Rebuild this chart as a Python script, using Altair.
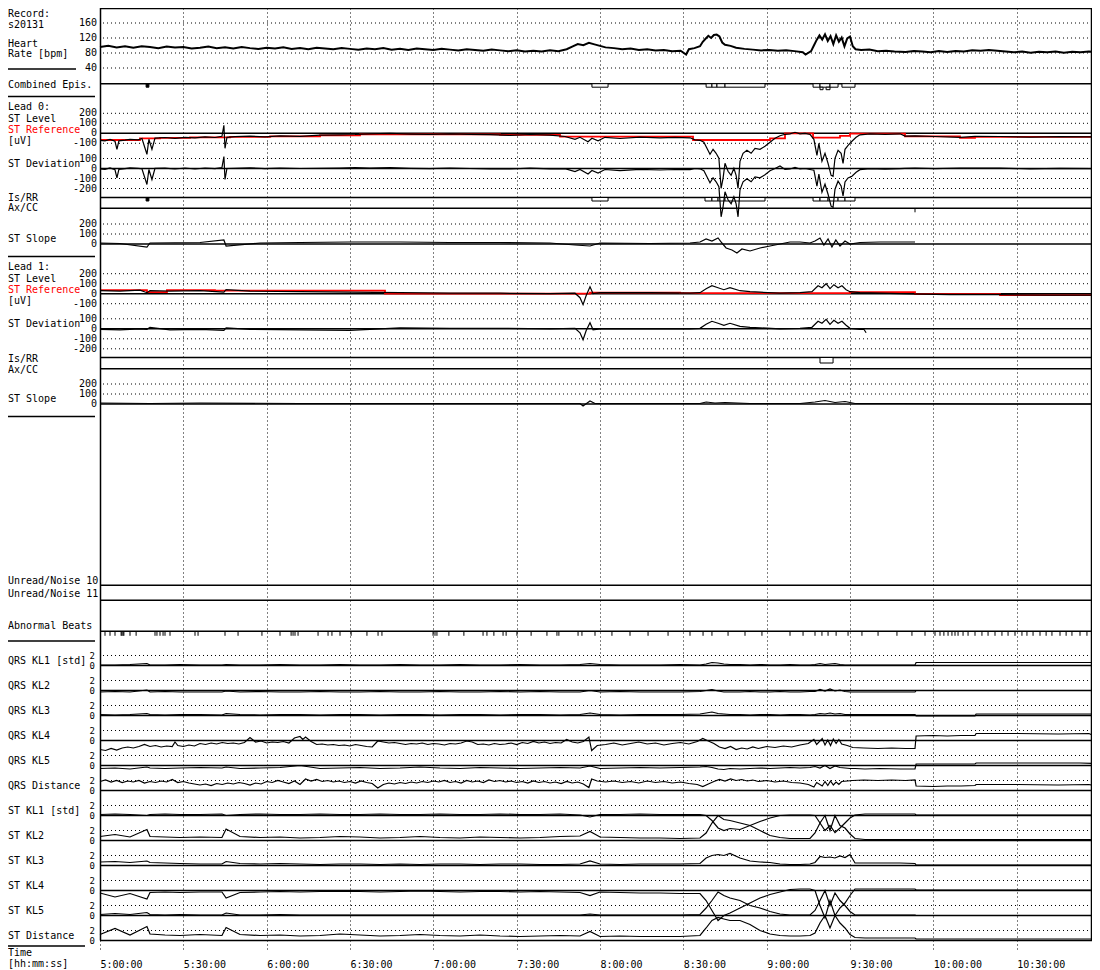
import altair as alt
import pandas as pd

# ---------------- data (time in minutes after 05:00:00) ----------------
HEART_RATE = [(0,96),(3,99),(6,95),(9,98),(12,94),(15,98),(18,96),(21,93),(24,97),(27,95),(30,96),(33,92),(36,94),(39,97),(42,93),(45,95),(48,92),(51,96),(54,93),(57,91),(60,94),(63,92),(66,95),(69,91),(72,93),(75,90),(78,94),(81,92),(84,90),(87,93),(90,91),(93,89),(96,92),(99,90),(102,93),(105,89),(108,91),(111,88),(114,92),(117,90),(120,88),(123,91),(126,89),(129,87),(132,90),(135,88),(138,86),(141,89),(144,87),(147,85),(150,87),(153,84),(156,86),(159,84),(162,87),(165,85),(168,90),(170,97),(172,104),(174,101),(176,107),(178,103),(180,99),(182,95),(185,93),(188,90),(191,92),(194,88),(197,90),(200,87),(203,88),(206,85),(209,86),(211,76),(212,90),(214,93),(216,98),(217,110),(218,118),(219,126),(220,120),(221,128),(222,129),(223,124),(224,108),(225,102),(227,99),(229,94),(232,91),(235,89),(238,87),(241,88),(244,86),(247,87),(250,85),(253,82),(254,76),(256,85),(257,100),(258,115),(259,127),(260,116),(261,130),(262,112),(263,125),(264,104),(265,127),(266,110),(267,121),(268,98),(269,119),(270,124),(271,98),(272,90),(274,88),(277,89),(280,85),(283,86),(286,84),(290,83),(293,85),(296,84),(299,82),(302,85),(305,83),(308,85),(311,84),(314,87),(317,86),(320,88),(323,86),(326,84),(329,82),(332,84),(335,81),(338,83),(341,82),(344,84),(347,81),(350,83),(353,82),(356,84),(359,82)]

EPIS_COMBINED = [(177.1,182.9),(218.2,220.3),(220.3,222.1),(222.1,225.0),(225.0,239.4),(256.7,259.2),(259.2,262.8),(262.8,265.7),(267.1,271.8)]
EPIS_COMBINED_DEEP = [(259.2,260.3),(261.4,262.8)]
EPIS_SHORT = [(16.6,17.6)]
L0_ISRR = [(177.1,182.9),(217.8,220.3),(220.3,222.5),(222.5,225.0),(225.0,239.4),(256.7,259.2),(259.2,262.1),(262.1,265.7),(265.7,268.2),(268.2,271.8)]
L0_ISRR_SHORT = [(16.6,17.6)]
L1_ISRR = [(259.2,263.9)]
L0_AXCC = [293.4]

L0_T = [0,1.8,3.6,5.4,6.1,6.8,9.0,10.8,13.7,15.1,
        16.9,17.6,18.7,19.8,23.4,27.0,30.6,34.2,37.8,41.4,
        43.9,44.6,45.0,45.7,48.6,54.0,59.4,64.8,72.0,79.2,
        86.4,91.8,97.2,104.4,111.6,118.8,126.0,133.2,140.4,147.6,
        154.8,162.0,167.4,171.0,172.8,175.7,177.1,179.3,181.8,187.2,
        194.4,201.6,207.0,212.4,214.2,216.0,217.4,218.5,219.6,220.7,
        221.8,222.8,223.6,224.3,225.0,226.1,227.2,228.2,229.0,229.7,
        230.4,231.5,232.9,234.4,235.8,237.6,239.4,241.2,243.0,244.8,
        246.6,248.4,250.2,252.0,253.8,255.6,257.0,258.1,258.8,259.9,
        261.0,262.1,263.2,263.9,264.6,265.7,266.8,267.5,268.2,269.3,
        270.7,272.2,273.6,277.2,282.6,288.0,289.8,293.4,300.6,309.6,
        315.0,324.0,334.8,345.6,359.3]
L0_LEVEL = [-70,-75,-62,-80,-160,-75,-68,-60,-66,-52,
            -210,-60,-160,-48,-42,-50,-40,-45,-35,-42,
            -30,80,-150,-40,-33,-28,-36,-25,-30,-18,
            -15,-12,-5,0,-8,-12,-5,-10,-14,-20,
            -12,-18,-32,-60,-40,-85,-50,-75,-40,-52,
            -38,-45,-40,-45,-65,-70,-90,-150,-210,-160,
            -200,-250,-550,-450,-300,-380,-420,-350,-420,-550,
            -280,-200,-170,-200,-150,-160,-130,-90,-50,-25,
            -10,-5,10,-5,0,-10,-60,-220,-100,-280,
            -200,-300,-420,-430,-250,-170,-200,-300,-160,-120,
            -80,-40,-15,-5,-10,-5,-28,-25,-32,-40,
            -30,-32,-38,-33,-36]
L0_DEV = [-3,-8,5,-13,-93,-8,-1,7,1,-2,
          -160,-10,-110,2,3,-5,5,-5,5,-2,
          10,120,-110,0,2,7,-1,5,0,2,
          5,8,5,10,2,-2,5,0,-4,-5,
          3,-3,-2,-30,-10,-55,-20,-45,-10,-22,
          -8,-15,-10,-12,0,-3,-23,-83,-143,-93,
          -133,-183,-483,-383,-233,-313,-353,-283,-353,-483,
          -213,-133,-103,-133,-83,-93,-63,-23,0,25,
          -10,-5,10,-5,0,-10,-17,-177,-57,-237,
          -157,-257,-377,-387,-207,-127,-175,-275,-135,-95,
          -77,-37,-12,-2,-7,-2,2,5,-2,5,
          5,3,-3,2,-1]
L0_REF_T = [0,14.4,21.6,32.4,46.8,61.2,79.2,93.6,144,165.6,213.5,241.2,246.6,256.7,266.4,270,289.8,309.6,315,359.3]
L0_REF = [-67,-50,-45,-40,-35,-30,-20,-10,-15,-33,-67,-50,0,-43,-25,-3,-30,-45,-35,-35]
L0_SLOPE_T = [0,7.2,16.9,18,36,44.6,45.4,57.6,72,90,108,126,144,162,171,176.4,180,198,212.4,216,
              218.2,220.3,222.5,223.9,225.4,227.5,229.3,231.1,234,237.6,241.2,244.8,248.4,252,255.6,257.4,259.2,260.6,262.1,263.5,
              264.9,266.4,268.2,270,273.6,280.8,288,293.4]
L0_SLOPE = [10,5,-30,10,15,40,-20,10,15,20,20,15,15,10,-10,-20,10,5,10,20,
            50,30,60,10,-40,-60,-90,-50,-70,-40,-20,0,20,20,10,30,60,-10,50,-30,
            40,-20,30,0,15,20,20,20]

L1_T = [0,7.2,14.4,16.9,18,25.2,36,44.6,45.4,54,
        72,90,108,126,144,162,171,172.8,173.9,175,
        176.4,177.5,180,198,212.4,216,218.2,220.3,222.5,224.6,
        226.8,230.4,234,237.6,244.8,252,256.3,258.5,259.9,261.4,
        262.8,264.2,265.7,267.1,268.6,270,273.6,280.8,288,295.2,
        306,324,342,359.3]
L1_LEVEL = [30,25,35,10,30,25,30,15,40,25,
            20,15,10,5,5,0,5,-40,-110,-20,
            70,0,10,10,5,10,50,80,60,40,
            60,30,20,15,5,10,20,80,60,100,
            50,90,60,80,40,20,10,5,0,-5,
            -10,-10,-15,-15]
L1_DEV_T = [0,7.2,14.4,16.9,18,25.2,36,44.6,45.4,54,
            72,90,108,126,144,162,171,172.8,173.9,175,
            176.4,177.5,180,198,212.4,216,218.2,220.3,222.5,224.6,
            226.8,230.4,234,237.6,244.8,252,256.3,258.5,259.9,261.4,
            262.8,264.2,265.7,267.1,268.6,270,273.6,275.0,275.8]
L1_DEV = [-5,-10,0,-5,15,-10,-5,-15,10,-5,
          -10,-15,10,5,5,0,5,-40,-110,-20,
          60,-10,0,0,0,5,45,75,55,35,
          55,25,15,10,0,5,15,75,55,95,
          45,85,55,75,35,5,-5,-5,-40]
L1_REF_T = [0,16.9,24.1,41.4,102.6,176.4,208.8,270,293.4,324,359.3]
L1_REF = [35,15,35,30,0,10,5,15,-5,-15,-15]
L1_SLOPE_T = [0,18,36,72,108,144,172.8,173.9,176.4,178.2,198,216,218.2,221.4,225,234,252,257.4,261,264.6,268.2,271.8,288,324,359.3]
L1_SLOPE = [10,5,10,5,5,5,5,-20,30,5,5,5,20,10,15,5,5,20,35,15,25,5,5,0,0]

ABNORMAL_BEATS = [1.8,3.6,5.4,7.6,7.9,8.3,8.6,10.8,13.0,19.8,20.5,21.6,22.7,23.4,25.2,34.2,35.3,45.0,49.7,58.3,64.8,68.8,69.5,70.2,71.3,78.5,82.1,83.5,86.4,90.4,96.1,100.1,101.5,119.9,120.6,121.3,125.6,131.0,137.9,139.3,141.8,145.1,146.2,150.1,155.2,160.9,164.5,165.2,172.1,173.5,178.2,184.3,190.8,197.3,204.5,212.4,217.1,220.3,226.1,232.2,238.3,248.4,253.1,257.4,259.9,262.1,265.0,269.3,274.3,280.1,286.9,292.3,297.0,300.6,302.4,303.8,305.3,306.7,307.8,308.9,310.7,312.5,315.0,317.5,319.7,322.2,324.7,326.9,329.4,331.9,333.7,335.9,338.4,340.6,342.7,345.6,347.8,349.9,352.8,355.3,357.8]

QRS_KL4_PTS = [(0,-1.8),(2,-2.0),(4,-1.6),(6,-1.9),(8,-1.5),(10,-1.3),(12,-1.5),(14,-1.2),(16,-0.8),(18,-1.2),(20,-1.0),(22,-1.3),(24,-1.1),(26,-1.2),(27,-0.3),(28,-1.0),(30,-1.2),(32,-0.9),(34,-1.1),(36,-0.6),(38,-0.8),(40,-0.5),(42,-0.7),(44,-0.4),(46,-0.6),(48,-0.5),(50,-0.7),(52,-0.4),(54,0.6),(56,-0.3),(58,-0.1),(60,-0.5),(62,-0.3),(64,-0.4),(66,-0.2),(68,-0.5),(70,0.5),(72,0.8),(73,0.2),(74,0.7),(76,-0.2),(78,-0.8),(80,-0.7),(82,-0.9),(84,-0.8),(86,-1.0),(88,-0.9),(90,-1.1),(92,-0.8),(94,-1.0),(96,-1.2),(98,-1.3),(100,-0.1),(102,-0.3),(104,-0.5),(106,-0.4),(108,-0.6),(110,-0.8),(112,-0.6),(114,-0.7),(116,-0.5),(118,-0.8),(120,-0.6),(122,-0.7),(124,-0.9),(126,-0.6),(128,-0.7),(130,-0.5),(132,-0.1),(134,-0.3),(136,-0.8),(138,-0.7),(140,-0.9),(142,-0.6),(144,-0.8),(146,-0.7),(148,-0.5),(150,-0.8),(152,-0.4),(154,-0.6),(156,-0.2),(158,-0.5),(160,-0.3),(162,-0.6),(164,-0.4),(166,-0.5),(168,0.2),(170,-0.3),(172,-0.5),(174,-0.2),(176,0.7),(177,-2.0),(179,-1.0),(182,-0.8),(185,-0.5),(188,-0.9),(191,-0.6),(194,-0.3),(197,-0.7),(200,-0.5),(203,-0.9),(206,-0.6),(209,-0.4),(212,-0.7),(215,-0.2),(217,0.4),(219,-0.1),(221,-0.6),(223,-1.3),(225,-1.6),(227,-1.2),(229,-1.8),(231,-1.5),(233,-1.7),(235,-1.3),(237,-1.6),(240,-1.2),(243,-1.4),(246,-1.1),(249,-1.3),(252,-0.9),(255,-0.6),(257,0.2),(258,-0.8),(260,0.4),(261,-0.9),(262,0.1),(263,-1.0),(264,0.3),(265,-0.6),(266,0.2),(267,-0.7),(269,-1.0),(271,-1.4),(275,-1.5),(280,-1.6),(285,-1.5),(290,-1.6),(293.4,-1.6),(293.8,0.9),(300,1.0),(305,0.9),(310,1.0),(315,1.0),(315.4,1.4),(330,1.4),(345,1.3),(356,1.4),(359.3,0.6)]
QRS_DIST_PTS = [(0,1.8),(2,2.1),(4,1.7),(6,2.0),(8,1.6),(10,1.9),(12,1.7),(14,2.0),(16,1.5),(18,1.8),(20,1.6),(22,1.9),(24,1.7),(26,2.2),(28,1.6),(30,1.8),(32,1.5),(34,1.3),(36,1.1),(38,1.3),(40,1.0),(42,1.4),(44,1.2),(46,1.5),(48,1.3),(50,1.6),(52,1.4),(54,1.1),(56,1.5),(58,1.3),(60,1.8),(62,1.6),(64,2.0),(66,1.7),(68,1.4),(70,1.9),(72,1.2),(74,2.3),(76,1.9),(78,2.2),(80,1.8),(82,2.0),(84,1.7),(86,1.9),(88,1.6),(90,1.8),(92,1.5),(94,1.9),(96,1.6),(98,1.4),(100,0.5),(102,1.2),(104,1.5),(106,1.3),(108,1.6),(110,1.4),(112,1.7),(114,1.5),(116,1.8),(118,1.6),(120,1.9),(122,1.7),(124,2.0),(126,1.6),(128,1.8),(130,1.5),(132,2.0),(134,1.7),(136,1.9),(138,1.6),(140,2.1),(142,1.8),(144,2.0),(146,1.7),(148,1.9),(150,1.6),(152,1.8),(154,1.5),(156,1.9),(158,1.6),(160,1.8),(162,1.5),(164,1.7),(166,1.4),(168,1.8),(170,1.5),(172,1.7),(174,1.3),(176,0.6),(177,2.3),(179,1.9),(182,1.7),(185,1.9),(188,1.6),(191,1.8),(194,1.5),(197,1.9),(200,1.6),(203,1.8),(206,1.5),(209,1.7),(212,1.4),(215,1.2),(217,0.8),(219,1.3),(221,1.8),(223,2.2),(225,1.9),(227,2.3),(229,2.0),(231,2.2),(233,1.9),(235,2.1),(237,1.8),(240,2.0),(243,1.7),(246,1.9),(249,1.6),(252,1.5),(255,1.2),(257,0.7),(258,1.6),(260,0.9),(261,1.8),(262,1.0),(263,1.9),(264,1.1),(265,1.7),(266,1.2),(267,1.8),(269,1.9),(271,2.0),(275,2.1),(280,2.0),(285,2.1),(290,2.0),(293.4,2.1),(293.8,0.9),(300,0.8),(305,0.9),(310,0.9),(315,1.0),(315.4,1.2),(330,1.2),(345,1.1),(356,1.2),(359.3,0.8)]

KL_T = [0,5.4,10.8,16.9,18,23.4,28.8,36, 43.9,45.4,50.4,57.6,64.8,72,79.2,86.4,
        93.6,100.8,108,115.2,122.4,129.6,136.8,144, 151.2,158.4,165.6,172.8,176.4,180,187.2,194.4,
        201.6,208.8,216,218.2,220.3,222.5,224.6,226.8, 230.4,234,237.6,241.2,244.8,248.4,252,255.6,
        257.4,259.2,261,262.8,264.6,266.4,268.2,270, 271.8,275.4,280.8,288,293.4,293.8,302.4,309.6,
        315,315.4,324,331.2,338.4,345.6,352.8,359.3]
QRS_KL1 = [0.1,0.1,0.2,0.4,0.1,0.1,0.2,0.1, 0.1,0.2,0.1,0.1,0.2,0.1,0.1,0.2, 0.1,0.1,0.2,0.1,0.1,0.2,0.1,0.1,
           0.2,0.1,0.1,0.2,0.4,0.2,0.1,0.1, 0.1,0.2,0.1,0.3,0.6,0.5,0.3,0.2, 0.2,0.1,0.2,0.1,0.1,0.2,0.1,0.1,
           0.2,0.4,0.2,0.3,0.4,0.2,0.1,0.1, 0.1,0.1,0.1,0.1,0.1,0.6,0.6,0.6, 0.6,0.6,0.6,0.6,0.6,0.6,0.6,0.6]
QRS_KL2 = [-0.3,-0.2,-0.3,0.1,-0.3,-0.2,-0.3,-0.3, -0.3,-0.1,-0.3,-0.2,-0.3,-0.3,-0.2,-0.3, -0.3,-0.2,-0.3,-0.3,-0.2,-0.3,-0.3,-0.2,
           -0.3,-0.2,-0.3,-0.3,0.0,-0.3,-0.2,-0.3, -0.3,-0.3,-0.2,0.0,0.2,-0.1,-0.3,-0.3, -0.3,-0.2,-0.3,-0.3,-0.2,-0.3,-0.3,-0.2,
           -0.2,0.2,-0.1,0.3,-0.1,0.1,-0.2,-0.3, -0.3,-0.3,-0.3,-0.3,-0.3,0.0,0.0,0.0, 0.0,0.0,0.0,0.0,0.0,0.0,0.0,0.0]
QRS_KL3 = [0.2,0.1,0.2,0.4,0.2,0.1,0.2,0.2, 0.1,0.4,0.2,0.1,0.2,0.2,0.1,0.2, 0.2,0.1,0.2,0.2,0.1,0.2,0.2,0.1,
           0.2,0.2,0.1,0.2,0.5,0.2,0.1,0.2, 0.2,0.2,0.3,0.5,0.7,0.4,0.3,0.2, 0.2,0.1,0.2,0.2,0.1,0.2,0.2,0.1,
           0.2,0.4,0.3,0.5,0.3,0.4,0.2,0.2, 0.2,0.2,0.2,0.2,0.2,-0.1,-0.1,-0.1, -0.1,0.3,0.3,0.3,0.3,0.3,0.3,0.3]
QRS_KL5 = [-0.6,-0.5,-0.7,-0.3,-0.5,-0.6,-0.5,-0.4, -0.5,-0.3,-0.6,-0.5,-0.4,0.0,-0.6,-0.5,
           -0.4,-0.6,-0.5,-0.3,-0.5,-0.6,-0.4,-0.5, -0.6,-0.5,-0.4,-0.5,-0.1,-0.6,-0.5,-0.4,
           -0.5,-0.4,-0.3,-0.2,-0.4,-0.7,-0.8,-0.6, -0.7,-0.6,-0.5,-0.6,-0.5,-0.4,-0.5,-0.4,
           -0.2,-0.5,0.0,-0.6,-0.1,-0.4,-0.5,-0.6, -0.6,-0.7,-0.6,-0.7,-0.7,0.3,0.3,0.3,
           0.3,0.5,0.5,0.5,0.5,0.5,0.5,0.4]
ST_KL1 = [0.2,0.3,0.2,0.0,0.2,0.3,0.2,0.2, 0.3,0.0,0.2,0.3,0.2,0.2,0.3,0.2,
          0.2,0.3,0.2,0.2,0.3,0.2,0.2,0.3, 0.2,0.2,0.3,0.1,-0.3,0.2,0.2,0.3,
          0.2,0.2,0.2,0.0,-1.0,-2.5,-3.0,-2.6, -2.8,-2.0,-1.2,-0.5,0.0,0.1,0.1,0.1,
          0.0,-1.5,-3.0,-2.0,-3.4,-2.5,-1.5,-0.5, 0.1,0.3,0.3,0.3,0.3,0.1,0.1,0.1,
          0.1,0.1,0.1,0.1,0.1,0.1,0.1,0.1]
ST_KL2 = [0.8,1.2,0.7,2.2,0.8,0.7,0.6,0.7, 0.6,2.3,0.8,0.6,0.7,0.5,0.6,0.8,
          0.7,0.5,0.6,0.8,0.6,0.5,0.7,0.6, 0.5,0.6,0.8,0.9,1.8,0.7,0.6,0.5,
          0.5,0.4,0.5,1.5,3.5,5.0,4.2,4.0, 3.5,3.0,2.0,1.0,0.6,0.4,0.4,0.4,
          1.5,3.5,5.0,2.0,5.0,3.0,2.5,1.3, 0.4,0.2,0.2,0.2,0.2,0.2,0.2,0.2,
          0.2,0.2,0.2,0.2,0.2,0.2,0.2,0.2]
ST_KL3 = [0.7,0.8,0.6,0.9,0.6,0.5,0.4,0.3, 0.3,0.8,0.4,0.3,0.4,0.3,0.2,0.3,
          0.3,0.2,0.3,0.2,0.3,0.3,0.2,0.3, 0.3,0.2,0.2,0.3,0.9,0.3,0.2,0.3,
          0.3,0.3,0.4,1.5,2.0,2.2,2.0,2.4, 1.5,0.9,0.7,0.6,0.3,0.2,0.2,0.3,
          0.6,1.8,1.6,1.7,1.5,1.9,1.6,2.2, 0.5,0.5,0.5,0.5,0.4,0.1,0.1,0.1,
          0.1,0.1,0.1,0.1,0.1,0.1,0.1,0.1]
ST_KL4 = [-0.5,-1.3,-0.6,-1.7,-0.4,-0.3,-0.4,-0.3, -0.3,-1.5,-0.4,-0.3,-0.2,-0.3,-0.2,-0.2,
          -0.2,-0.3,-0.2,-0.1,-0.2,-0.3,-0.2,-0.2, -0.3,-0.2,-0.3,-0.4,-1.0,-0.3,-0.4,-0.5,
          -0.5,-0.6,-0.6,-2.0,-4.0,-6.0,-5.0,-4.5, -3.5,-2.5,-1.5,-0.8,-0.3,0.2,0.3,0.3,
          0.0,-3.0,-5.5,-2.0,-5.0,-3.5,-2.5,-1.0, 0.3,0.3,0.3,0.3,0.3,0.1,0.1,0.1,
          0.1,0.1,0.1,0.1,0.1,0.1,0.1,0.1]
ST_KL5 = [0.2,0.4,0.2,0.6,0.2,0.1,0.2,0.1, 0.1,0.5,0.1,0.1,0.2,0.1,0.1,0.1,
          0.1,0.1,0.1,0.1,0.1,0.1,0.1,0.1, 0.1,0.1,0.1,0.1,0.3,0.1,0.1,0.1,
          0.1,0.1,0.2,1.5,3.0,4.7,4.0,3.5, 3.0,2.0,1.5,0.8,0.3,0.1,0.1,0.1,
          1.0,3.0,5.0,2.0,4.5,3.0,2.0,0.8, 0.1,0.1,0.1,0.1,0.1,0.0,0.0,0.0,
          0.0,0.0,0.0,0.0,0.0,0.0,0.0,0.0]
ST_DIST = [1.2,2.4,1.1,2.8,1.3,1.1,1.0,1.2, 1.0,2.6,1.2,1.0,1.1,0.9,1.0,1.3,
           1.1,0.9,1.0,1.2,1.0,0.9,1.1,0.9, 0.8,0.9,1.0,0.9,1.8,0.8,0.9,0.8,
           0.8,0.8,1.0,2.5,4.0,4.6,4.3,4.0, 4.0,3.2,2.0,1.3,1.0,0.9,0.9,1.0,
           1.5,3.5,5.0,2.5,5.0,3.5,2.5,1.2, 0.6,0.5,0.5,0.5,0.5,0.3,0.3,0.3,
           0.3,0.3,0.3,0.3,0.3,0.3,0.3,0.3]

KL_NAMES = ["QRS KL1 [std]","QRS KL2","QRS KL3","QRS KL4","QRS KL5","QRS Distance",
            "ST KL1 [std]","ST KL2","ST KL3","ST KL4","ST KL5","ST Distance"]
KL_SERIES = [(KL_T, QRS_KL1), (KL_T, QRS_KL2), (KL_T, QRS_KL3),
             ([p[0] for p in QRS_KL4_PTS], [p[1] for p in QRS_KL4_PTS]),
             (KL_T, QRS_KL5),
             ([p[0] for p in QRS_DIST_PTS], [p[1] for p in QRS_DIST_PTS]),
             (KL_T, ST_KL1), (KL_T, ST_KL2), (KL_T, ST_KL3), (KL_T, ST_KL4), (KL_T, ST_KL5), (KL_T, ST_DIST)]

HR_TICKS = [160,120,80,40]
ST_TICKS = [200,100,0,-100]
DEV_TICKS = [100,0,-100,-200]
SLOPE_TICKS = [200,100,0]
KL_TICKS = [2,0]

LEFT_LABELS = [("Record:",6,"black"),("s20131",16.5,"black"),("Heart",35.5,"black"),("Rate [bpm]",45.5,"black"),
               ("Combined Epis.",76.5,"black"),
               ("Lead 0:",98.5,"black"),("ST Level",110.5,"black"),("ST Reference",121.5,"red"),("[uV]",132.5,"black"),
               ("ST Deviation",156,"black"),("Is/RR",189.5,"black"),("Ax/CC",200,"black"),("ST Slope",230.5,"black"),
               ("Lead 1:",258.5,"black"),("ST Level",270.5,"black"),("ST Reference",281.5,"red"),("[uV]",292.5,"black"),
               ("ST Deviation",316,"black"),("Is/RR",350.5,"black"),("Ax/CC",361.5,"black"),("ST Slope",391,"black"),
               ("Unread/Noise 10",580.5,"black"),("Unread/Noise 11",593.5,"black"),("Abnormal Beats",626,"black"),
               ("Time",953,"black"),("[hh:mm:ss]",964,"black")]

# ---------------- layout ----------------
W, H = 992, 942
FONT = "DejaVu Sans Mono"
RED = "#ff0000"


def cy(ref):
    return ref if ref < 500 else ref - 8


def ysc(zero_ref, k):
    y0 = cy(zero_ref)
    return alt.Scale(domain=[(y0 - H) / k, y0 / k], nice=False, zero=False)


XS = alt.Scale(domain=[0, W * 0.36], nice=False, zero=False)
XAX = alt.Axis(values=list(range(0, 331, 30)),
               labelExpr="(5 + floor(datum.value / 60)) + ':' + (datum.value % 60 == 0 ? '00' : '30') + ':00'",
               grid=True, gridDash=[1, 3], gridColor="black", gridOpacity=1, gridWidth=1,
               ticks=False, tickSize=0, domain=False, labelAlign="left", labelBaseline="top",
               labelFont=FONT, labelFontSize=10, labelColor="black", labelPadding=9,
               labelFlush=False, labelOverlap=False, title=None)


def X(f):
    return alt.X(f, type="quantitative", scale=XS, axis=XAX)


layers = []


def trace(t, v, zero_ref, k, color="black", width=1.2, interp="linear"):
    df = pd.DataFrame({"t": t, "v": v})
    layers.append(alt.Chart(df).mark_line(color=color, strokeWidth=width, interpolate=interp).encode(
        x=X("t"), y=alt.Y("v:Q", scale=ysc(zero_ref, k), axis=None)))


def hlines(vals, zero_ref, k, dotted):
    df = pd.DataFrame({"v": vals})
    if dotted:
        m = alt.Chart(df).mark_rule(color="black", strokeWidth=1, strokeDash=[1, 3])
    else:
        m = alt.Chart(df).mark_rule(color="black", strokeWidth=1.5)
    layers.append(m.encode(y=alt.Y("v:Q", scale=ysc(zero_ref, k), axis=None)))


def ylabels(vals, zero_ref, k, xoff=-3, size=10):
    df = pd.DataFrame({"v": vals, "s": [str(v) for v in vals]})
    layers.append(alt.Chart(df).mark_text(align="right", baseline="middle", font=FONT, fontSize=size,
                                          color="black").encode(
        x=alt.value(xoff), y=alt.Y("v:Q", scale=ysc(zero_ref, k), axis=None), text="s:N"))


def boxes(spans, zero_ref, top, bottom, fill="white"):
    df = pd.DataFrame(spans, columns=["t1", "t2"])
    layers.append(alt.Chart(df).mark_rect(fill=fill, stroke="black", strokeWidth=1).encode(
        x=X("t1"), x2="t2", y=alt.YDatum(top, scale=ysc(zero_ref, 1), axis=None), y2=alt.Y2Datum(bottom)))


def ticks(ts, zero_ref, depth):
    df = pd.DataFrame({"t": ts})
    layers.append(alt.Chart(df).mark_rule(color="black", strokeWidth=1).encode(
        x=X("t"), y=alt.YDatum(0, scale=ysc(zero_ref, 1), axis=None), y2=alt.Y2Datum(-depth)))


def pix_rule(x1, x2, y1, y2, w=1.5):
    layers.append(alt.Chart(pd.DataFrame({"a": [0]})).mark_rule(color="black", strokeWidth=w).encode(
        x=alt.value(x1), x2=alt.value(x2), y=alt.value(y1), y2=alt.value(y2)))


# Heart rate
HR_ZERO, HR_K = 75, 0.375
hlines(HR_TICKS, HR_ZERO, HR_K, True)
ylabels(HR_TICKS, HR_ZERO, HR_K)
trace([p[0] for p in HEART_RATE], [p[1] for p in HEART_RATE], HR_ZERO, HR_K, width=2)

# Combined episodes
hlines([0], 75.7, 1, False)
boxes(EPIS_COMBINED, 75.7, 0, -3.5)
boxes(EPIS_COMBINED_DEEP, 75.7, -3.5, -6)
boxes(EPIS_SHORT, 75.7, 0, -3.5, fill="black")


def lead(z_lev, z_dev, z_isrr, z_axcc, z_slope, lev_t, lev, ref_t, ref, dev_t, dev, sl_t, sl,
         isrr, isrr_short, isrr_depth, axcc):
    hlines([v for v in ST_TICKS if v != 0], z_lev, 0.1, True)
    hlines([0], z_lev, 0.1, False)
    ylabels(ST_TICKS, z_lev, 0.1)
    hlines([v for v in DEV_TICKS if v != 0], z_dev, 0.1, True)
    hlines([0], z_dev, 0.1, False)
    ylabels(DEV_TICKS, z_dev, 0.1)
    hlines([0], z_isrr, 1, False)
    boxes(isrr, z_isrr, 0, -isrr_depth)
    if isrr_short:
        boxes(isrr_short, z_isrr, 0, -isrr_depth, fill="black")
    hlines([0], z_axcc, 1, False)
    if axcc:
        ticks(axcc, z_axcc, 4)
    hlines([v for v in SLOPE_TICKS if v != 0], z_slope, 0.1, True)
    hlines([0], z_slope, 0.1, False)
    ylabels(SLOPE_TICKS, z_slope, 0.1)
    trace(ref_t, ref, z_lev, 0.1, color=RED, width=1.8, interp="step-after")
    trace(lev_t, lev, z_lev, 0.1)
    trace(dev_t, dev, z_dev, 0.1)
    trace(sl_t, sl, z_slope, 0.1)


lead(125.3, 160.5, 189.5, 200.3, 236, L0_T, L0_LEVEL, L0_REF_T, L0_REF, L0_T, L0_DEV,
     L0_SLOPE_T, L0_SLOPE, L0_ISRR, L0_ISRR_SHORT, 3.5, L0_AXCC)
lead(285.7, 320.8, 349.5, 360.7, 396, L1_T, L1_LEVEL, L1_REF_T, L1_REF, L1_DEV_T, L1_DEV,
     L1_SLOPE_T, L1_SLOPE, L1_ISRR, [], 5.5, [])

# Unread / noise and abnormal beats
hlines([0], 585.3, 1, False)
hlines([0], 600.3, 1, False)
hlines([0], 631.3, 1, False)
ticks(ABNORMAL_BEATS, 631.3, 4.5)

# KL panels
for i, (kt, kv) in enumerate(KL_SERIES):
    z = 665.5 + 25 * i
    hlines([2], z, 5, True)
    hlines([0], z, 5, False)
    ylabels(KL_TICKS, z, 5, xoff=-5, size=9)
    trace(kt, kv, z, 5)

# left text labels
lab_rows = [(t, cy(y), c) for (t, y, c) in LEFT_LABELS]
lab_rows += [(n, cy(660.5 + 25 * i), "black") for i, n in enumerate(KL_NAMES)]
lab_df = pd.DataFrame(lab_rows, columns=["text", "py", "col"])
layers.append(alt.Chart(lab_df).mark_text(align="left", baseline="middle", font=FONT, fontSize=10).encode(
    x=alt.value(-92), y=alt.Y("py:Q", scale=None, axis=None), text="text:N",
    color=alt.Color("col:N", scale=None)))

# left separators
pix_rule(-92, -24, cy(61), cy(61))
for yy in (88.5, 248.5, 408.5, 641):
    pix_rule(-92, -5, cy(yy), cy(yy))
pix_rule(-92, -15, cy(946), cy(946))

# frame
pix_rule(0, W, 0.5, 0.5)
pix_rule(0.5, 0.5, 0, cy(940.5))
pix_rule(W - 0.5, W - 0.5, 0, cy(940.5))

chart = alt.layer(*layers).resolve_scale(y="independent").properties(
    width=W, height=H,
    autosize=alt.AutoSizeParams(type="none"),
    padding={"left": 92, "top": 0, "right": 0, "bottom": 20},
    background="white",
).configure_view(strokeWidth=0)

chart.save("out.html", embed_options={"renderer": "svg", "actions": False})
